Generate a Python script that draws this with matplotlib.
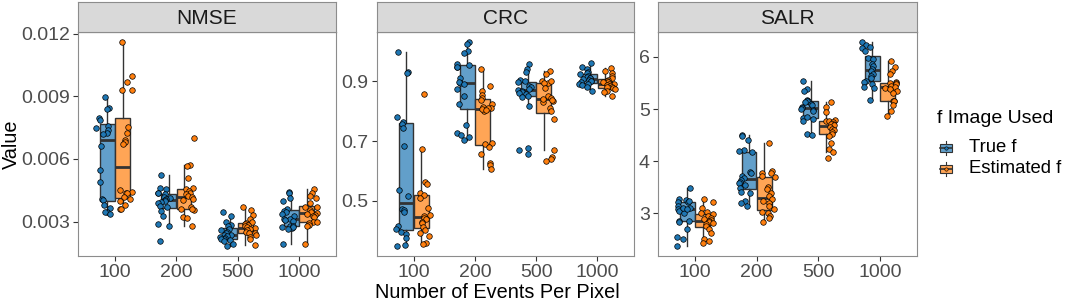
import numpy as np
import matplotlib.pyplot as plt
from matplotlib.patches import Rectangle

plt.rcParams['font.family'] = ['Liberation Sans', 'DejaVu Sans']

events = ['100', '200', '500', '1000']
groups = ['True f', 'Estimated f']
metrics = ['NMSE', 'CRC', 'SALR']

# NMSE, in units of 1e-3
nmse_true = [
    [8.96, 8.44, 8.41, 7.98, 7.86, 7.58, 7.46, 7.37, 7.26, 7.18, 6.60, 5.45, 4.90, 4.08, 4.02, 3.81, 3.65, 3.48, 3.45, 3.37],
    [5.23, 4.63, 4.55, 4.35, 4.38, 4.30, 4.20, 4.11, 4.08, 4.03, 4.00, 3.92, 3.89, 3.76, 3.69, 3.50, 3.29, 2.90, 2.79, 2.08],
    [3.45, 3.29, 2.98, 2.82, 2.77, 2.66, 2.58, 2.50, 2.43, 2.38, 2.35, 2.31, 2.27, 2.22, 2.19, 2.16, 2.11, 2.08, 1.95, 1.84],
    [4.44, 4.35, 4.11, 4.00, 3.61, 3.53, 3.45, 3.37, 3.29, 3.12, 3.13, 3.10, 3.05, 2.80, 2.75, 2.70, 2.77, 2.72, 2.66, 1.95],
]
nmse_est = [
    [11.59, 9.98, 9.67, 9.32, 9.30, 7.53, 7.23, 6.91, 6.79, 6.72, 4.50, 4.44, 4.39, 4.35, 4.17, 4.08, 4.00, 3.80, 3.61, 3.59],
    [6.99, 5.70, 5.65, 5.10, 4.63, 4.55, 4.47, 4.39, 4.32, 4.24, 4.16, 4.08, 4.03, 3.55, 3.62, 3.68, 3.61, 3.24, 3.18, 2.77],
    [3.68, 3.57, 3.32, 3.13, 2.98, 2.94, 2.90, 2.82, 2.77, 2.74, 2.69, 2.66, 2.58, 2.50, 2.47, 2.43, 2.35, 2.27, 2.19, 1.87],
    [4.55, 4.39, 4.24, 4.11, 3.90, 3.72, 3.69, 3.57, 3.48, 3.42, 3.37, 3.32, 3.29, 3.21, 2.98, 2.96, 2.94, 2.85, 2.77, 1.95],
]

crc_true = [
    [0.999, 0.932, 0.930, 0.780, 0.764, 0.758, 0.744, 0.683, 0.537, 0.514, 0.470, 0.468, 0.463, 0.415, 0.404, 0.396, 0.387, 0.374, 0.352, 0.348],
    [1.032, 1.026, 1.002, 0.996, 0.955, 0.950, 0.960, 0.947, 0.911, 0.895, 0.897, 0.891, 0.875, 0.852, 0.825, 0.755, 0.728, 0.719, 0.714, 0.703],
    [0.960, 0.943, 0.933, 0.905, 0.902, 0.898, 0.886, 0.880, 0.875, 0.871, 0.869, 0.863, 0.860, 0.858, 0.852, 0.847, 0.819, 0.675, 0.670, 0.656],
    [0.963, 0.947, 0.941, 0.933, 0.930, 0.924, 0.919, 0.916, 0.913, 0.911, 0.908, 0.904, 0.902, 0.900, 0.897, 0.893, 0.891, 0.889, 0.882, 0.869],
]
crc_est = [
    [0.858, 0.673, 0.564, 0.557, 0.525, 0.518, 0.510, 0.476, 0.453, 0.448, 0.442, 0.437, 0.429, 0.426, 0.411, 0.401, 0.390, 0.381, 0.356, 0.354],
    [0.941, 0.886, 0.869, 0.855, 0.845, 0.838, 0.825, 0.814, 0.802, 0.812, 0.810, 0.808, 0.805, 0.692, 0.690, 0.680, 0.658, 0.625, 0.620, 0.605],
    [0.935, 0.924, 0.902, 0.894, 0.900, 0.895, 0.878, 0.852, 0.843, 0.836, 0.830, 0.842, 0.838, 0.811, 0.802, 0.775, 0.670, 0.645, 0.639, 0.633],
    [0.944, 0.935, 0.927, 0.919, 0.911, 0.906, 0.902, 0.899, 0.897, 0.893, 0.891, 0.889, 0.886, 0.883, 0.880, 0.878, 0.875, 0.869, 0.863, 0.852],
]

salr_true = [
    [3.49, 3.27, 3.25, 3.21, 3.23, 3.22, 3.14, 3.11, 3.08, 3.04, 3.01, 3.10, 3.09, 2.85, 2.86, 2.84, 2.70, 2.54, 2.51, 2.38],
    [4.50, 4.48, 4.40, 4.21, 4.19, 4.17, 3.80, 3.77, 3.71, 3.68, 3.64, 3.61, 3.58, 3.55, 3.49, 3.42, 3.39, 3.23, 3.20, 3.14],
    [5.54, 5.39, 5.34, 5.17, 5.16, 5.15, 5.13, 5.10, 5.07, 5.03, 5.02, 5.00, 4.98, 4.97, 4.83, 4.80, 4.78, 4.84, 4.53, 4.50],
    [6.28, 6.23, 6.18, 6.16, 6.11, 5.98, 5.95, 5.86, 5.82, 5.76, 5.73, 5.67, 5.63, 5.59, 5.54, 5.51, 5.48, 5.43, 5.40, 5.17],
]
salr_est = [
    [3.27, 3.22, 3.11, 3.03, 3.00, 2.98, 2.95, 2.92, 2.89, 2.87, 2.85, 2.84, 2.82, 2.79, 2.76, 2.70, 2.63, 2.51, 2.48, 2.44],
    [4.34, 3.81, 3.78, 3.77, 3.71, 3.70, 3.51, 3.47, 3.39, 3.33, 3.27, 3.23, 3.20, 3.14, 3.08, 3.03, 3.00, 2.95, 2.92, 2.84],
    [5.13, 5.03, 4.94, 4.79, 4.78, 4.77, 4.75, 4.72, 4.71, 4.69, 4.65, 4.62, 4.59, 4.56, 4.53, 4.48, 4.34, 4.23, 4.18, 4.07],
    [5.92, 5.80, 5.72, 5.68, 5.52, 5.50, 5.49, 5.48, 5.44, 5.43, 5.40, 5.38, 5.35, 5.30, 5.16, 5.15, 5.15, 5.08, 4.97, 4.86],
]

series = {
    'NMSE': [[np.array(v) * 1e-3 for v in nmse_true], [np.array(v) * 1e-3 for v in nmse_est]],
    'CRC': [crc_true, crc_est],
    'SALR': [salr_true, salr_est],
}
yticks = {'NMSE': [0.003, 0.006, 0.009, 0.012], 'CRC': [0.5, 0.7, 0.9], 'SALR': [3, 4, 5, 6]}
yfmt = {'NMSE': '%.3f', 'CRC': '%.1f', 'SALR': '%d'}

point_cols = ['#1F77B4', '#FF7F0E']
box_cols = ['#629FCA', '#FFA556']
dark = '#333333'
box_off = [-0.125, 0.125]
pt_off = [-0.19, 0.19]

W, H = 1065, 301
fig = plt.figure(figsize=(W / 100, H / 100), dpi=100)

def px_axes(x0, y0, x1, y1):
    # box given in pixels, y measured from the top
    return fig.add_axes([x0 / W, 1 - y1 / H, (x1 - x0) / W, (y1 - y0) / H])

panel_x = [(78, 336), (377, 634), (658, 917)]
rng = np.random.default_rng(7)  # jitter only

for m, (x0, x1) in zip(metrics, panel_x):
    ax = px_axes(x0, 32, x1, 256)
    allv = np.concatenate([np.asarray(v) for g in series[m] for v in g])
    lo, hi = allv.min(), allv.max()
    pad = 0.05 * (hi - lo)
    for gi in range(2):
        data = series[m][gi]
        pos = np.arange(1, 5) + box_off[gi]
        ax.boxplot(data, positions=pos, widths=0.24, patch_artist=True,
                   showfliers=False, showcaps=False, whis=1.5, manage_ticks=False,
                   boxprops=dict(facecolor=box_cols[gi], edgecolor=dark, linewidth=1.0),
                   medianprops=dict(color=dark, linewidth=2.0),
                   whiskerprops=dict(color=dark, linewidth=1.0))
        for i, vals in enumerate(data):
            xs = i + 1 + pt_off[gi] + rng.uniform(-0.11, 0.11, len(vals))
            ax.scatter(xs, vals, s=16, c=point_cols[gi], edgecolors='black',
                       linewidths=0.5, zorder=3)
    ax.set_xlim(0.4, 4.6)
    ax.set_ylim(lo - pad, hi + pad)
    ax.set_xticks(range(1, 5))
    ax.set_xticklabels(events)
    ax.set_yticks(yticks[m])
    ax.set_yticklabels([yfmt[m] % t for t in yticks[m]])
    ax.tick_params(colors=dark, labelcolor='#4D4D4D', labelsize=14, length=3.5, width=0.8, pad=2.5)
    for s in ['left', 'right', 'bottom']:
        ax.spines[s].set_color('#8C8C8C')
    ax.spines['top'].set_color(dark)

    sax = px_axes(x0, 2, x1, 32)
    sax.set_facecolor('#D9D9D9')
    sax.set_xticks([])
    sax.set_yticks([])
    for s in sax.spines.values():
        s.set_color('#8C8C8C')
    sax.text(0.5, 0.45, m, ha='center', va='center', fontsize=15, color='#1A1A1A',
             transform=sax.transAxes)

fig.text(497.5 / W, 1 - 292 / H, 'Number of Events Per Pixel', ha='center', va='center',
         fontsize=14.3, color='black')
fig.text(11 / W, 1 - 144 / H, 'Value', ha='center', va='center', rotation=90,
         fontsize=14.3, color='black')

# legend
lax = px_axes(925, 100, 1065, 185)
lax.set_xlim(925, 1065)
lax.set_ylim(185, 100)
lax.axis('off')
lax.text(937, 118, 'f Image Used', ha='left', va='center', fontsize=14)
for gi, yc in enumerate([147.5, 168.5]):
    lax.add_patch(Rectangle((940, yc - 4), 12, 8, facecolor=box_cols[gi], edgecolor=dark, lw=0.8))
    lax.plot([946, 946], [yc - 7, yc - 4], color=dark, lw=0.8)
    lax.plot([946, 946], [yc + 4, yc + 7], color=dark, lw=0.8)
    lax.plot([940, 952], [yc, yc], color=dark, lw=1.2)
    lax.scatter([946], [yc], s=6, c=point_cols[gi], edgecolors='black', linewidths=0.4, zorder=3)
    lax.text(969, yc, groups[gi], ha='left', va='center', fontsize=13.3)

fig.savefig('out.png', dpi=100)
